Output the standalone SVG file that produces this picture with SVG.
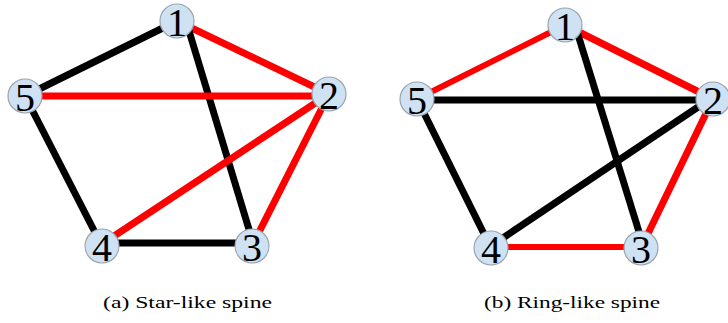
<svg xmlns="http://www.w3.org/2000/svg" width="728" height="323" viewBox="0 0 728 323">
<style>
.e{stroke-linecap:butt;fill:none}
.k{stroke:#000;stroke-width:7}
.r{stroke:#f00;stroke-width:7}
.rt{stroke:#f00;stroke-width:6}
.n circle{fill:#cfe2f3;stroke:#9aa4ad;stroke-width:1.2}
.n text{font-family:"Liberation Serif","Times New Roman",serif;font-size:40px;fill:#000;text-anchor:middle}
.cap{font-family:"Liberation Serif","DejaVu Serif",serif;font-size:16px;fill:#000}
</style>
<rect width="728" height="323" fill="#fff"/>
<g id="connectors-a">
<line class="e k" x1="177" y1="21" x2="25" y2="96"/>
<line class="e r" x1="177" y1="21" x2="329" y2="94"/>
<line class="e k" x1="186" y1="21" x2="254" y2="246"/>
<line class="e r" x1="25" y1="96" x2="329" y2="96"/>
<line class="e k" x1="25" y1="96" x2="102" y2="246"/>
<line class="e r" x1="329" y1="94" x2="102" y2="244"/>
<line class="e r" x1="329" y1="94" x2="252" y2="246"/>
<line class="e k" x1="102" y1="243" x2="252" y2="243"/>
</g>
<g id="connectors-b">
<line class="e rt" x1="565" y1="25" x2="417" y2="99"/>
<line class="e r" x1="565" y1="25" x2="713" y2="99"/>
<line class="e k" x1="575" y1="25" x2="644" y2="248"/>
<line class="e k" x1="417" y1="100" x2="713" y2="100"/>
<line class="e k" x1="417" y1="99" x2="491" y2="248"/>
<line class="e k" x1="713" y1="97" x2="491" y2="246"/>
<line class="e r" x1="713" y1="99" x2="641" y2="248"/>
<line class="e rt" x1="491" y1="247" x2="641" y2="247"/>
</g>
<g id="a1" class="n"><circle cx="177" cy="21" r="17"/><text x="177" y="36">1</text></g>
<g id="a2" class="n"><circle cx="329" cy="94" r="17"/><text x="329" y="109">2</text></g>
<g id="a3" class="n"><circle cx="252" cy="246" r="17"/><text x="252" y="261">3</text></g>
<g id="a4" class="n"><circle cx="102" cy="246" r="17"/><text x="102" y="261">4</text></g>
<g id="a5" class="n"><circle cx="25" cy="96" r="17"/><text x="25" y="111">5</text></g>
<g id="b1" class="n"><circle cx="565" cy="25" r="17"/><text x="565" y="40">1</text></g>
<g id="b2" class="n"><circle cx="713" cy="99" r="17"/><text x="713" y="114">2</text></g>
<g id="b3" class="n"><circle cx="641" cy="248" r="17"/><text x="641" y="263">3</text></g>
<g id="b4" class="n"><circle cx="491" cy="248" r="17"/><text x="491" y="263">4</text></g>
<g id="b5" class="n"><circle cx="417" cy="99" r="17"/><text x="417" y="114">5</text></g>
<text class="cap" x="103" y="308" textLength="169" lengthAdjust="spacingAndGlyphs">(a) Star-like spine</text>
<text class="cap" x="484" y="308" textLength="176" lengthAdjust="spacingAndGlyphs">(b) Ring-like spine</text>
</svg>
